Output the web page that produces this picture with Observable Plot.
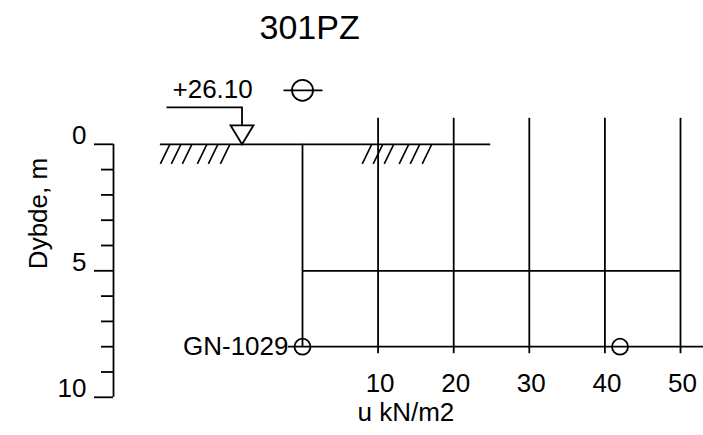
<!DOCTYPE html>
<html>
<head>
<meta charset="utf-8">
<script src="https://cdn.jsdelivr.net/npm/d3@7"></script>
<script src="https://cdn.jsdelivr.net/npm/@observablehq/plot@0.6"></script>
<style>
  html, body { margin: 0; padding: 0; background: #fff; }
  svg { display: block; }
</style>
</head>
<body>
<div id="chart"></div>
<script>
// Piezometer 301PZ: pore pressure u (kN/m2) against depth (m)
const title = "301PZ";
const depthLabel = "Dybde, m";
const pressureLabel = "u kN/m2";
const depthMajor = [0, 5, 10];
const depthMinor = [1, 2, 3, 4, 6, 7, 8, 9];
const pressureTicks = [10, 20, 30, 40, 50];
const pressureGrid = [10, 20, 30, 40, 50];
const layerDepths = [5];
const filterDepths = [8];
const readings = [
  {name: "GN-1029", depth: 8, u: 0},
  {name: "", depth: 8, u: 42}
];
const groundLevel = "+26.10";
const groundFrom = -18.8;
const groundTo = 24.9;
const waterTable = [{u: -8, depth: 0}];
const hatchAt = [-18.8, 7.9];

const font = "'Liberation Sans', Arial, Helvetica, sans-serif";
const sw = 1.8;
const fs = 26;

// Hatching under the terrain line (drawn relative to the anchor point)
const hatchSymbol = {
  draw(ctx) {
    for (const o of [0, 11, 22, 37, 48, 60]) {
      ctx.moveTo(o, 19.5);
      ctx.lineTo(o + 9.5, 0);
    }
  }
};
// Water table marker: inverted triangle with leader to the level text
const waterSymbol = {
  draw(ctx) {
    ctx.moveTo(0, 0);
    ctx.lineTo(-11.5, -19);
    ctx.lineTo(11.5, -19);
    ctx.closePath();
    ctx.moveTo(0, -19);
    ctx.lineTo(0, -37);
    ctx.lineTo(-75.5, -37);
  }
};
// Piezometer symbol: circle crossed by a horizontal bar
const piezoSymbol = {
  draw(ctx) {
    ctx.moveTo(10.5, 0);
    ctx.arc(0, 0, 10.5, 0, 2 * Math.PI);
    ctx.moveTo(-19, 0);
    ctx.lineTo(20, 0);
  }
};

const chart = Plot.plot({
  width: 703,
  height: 435,
  marginTop: 0, marginRight: 0, marginBottom: 0, marginLeft: 0,
  style: {fontFamily: font, color: "#000", background: "#fff"},
  x: {domain: [-25, 50], range: [113, 680], axis: null},
  y: {domain: [0, 10], range: [143.8, 396.8], axis: null},
  marks: [
    // depth axis
    Plot.ruleX([-25], {y1: 0, y2: 10, stroke: "#000", strokeWidth: sw}),
    Plot.ruleY(depthMajor, {y: d => d, x1: -25, x2: -25, insetLeft: -19, stroke: "#000", strokeWidth: sw}),
    Plot.ruleY(depthMinor, {y: d => d, x1: -25, x2: -25, insetLeft: -12, stroke: "#000", strokeWidth: sw}),
    Plot.text(depthMajor, {x: -25, y: d => d, text: d => String(d), textAnchor: "end", lineAnchor: "bottom", dx: -27, fontSize: fs}),
    Plot.text([depthLabel], {frameAnchor: "top-left", textAnchor: "middle", dx: 28, dy: 213, rotate: -90, fontSize: fs}),

    // pressure grid
    Plot.ruleX(pressureGrid, {x: d => d, y1: 0, y2: 8, insetTop: -26, insetBottom: -7, stroke: "#000", strokeWidth: sw}),
    Plot.ruleX([0], {x: d => d, y1: 0, y2: 8, stroke: "#000", strokeWidth: sw}),
    Plot.ruleY(layerDepths, {y: d => d, x1: 0, x2: 50, stroke: "#000", strokeWidth: sw}),
    Plot.ruleY(filterDepths, {y: d => d, x1: 0, x2: 50, insetLeft: -14, insetRight: -23, stroke: "#000", strokeWidth: sw}),
    Plot.text(pressureTicks, {x: d => d, text: d => String(d), frameAnchor: "bottom", lineAnchor: "bottom", dx: 2, dy: -43.5, fontSize: fs}),
    Plot.text([pressureLabel], {frameAnchor: "bottom-left", textAnchor: "start", lineAnchor: "bottom", dx: 357, dy: -15, fontSize: fs}),

    // terrain
    Plot.ruleY([0], {y: d => d, x1: groundFrom, x2: groundTo, stroke: "#000", strokeWidth: sw}),
    Plot.dot(hatchAt, {x: d => d, y: 0, symbol: hatchSymbol, fill: "none", stroke: "#000", strokeWidth: 1.6}),
    Plot.dot(waterTable, {x: "u", y: "depth", symbol: waterSymbol, fill: "none", stroke: "#000", strokeWidth: sw}),
    Plot.text(waterTable, {x: "u", y: "depth", text: () => groundLevel, textAnchor: "start", lineAnchor: "bottom", dx: -69.5, dy: -46, fontSize: fs}),
    Plot.dot([0], {x: d => d, y: 0, dy: -54, symbol: piezoSymbol, fill: "none", stroke: "#000", strokeWidth: sw}),

    // readings
    Plot.dot(readings, {x: "u", y: "depth", r: 8, fill: "none", stroke: "#000", strokeWidth: sw}),
    Plot.text(readings, {x: "u", y: "depth", text: "name", textAnchor: "end", dx: -14, fontSize: fs}),

    // title
    Plot.text([title], {frameAnchor: "top-left", textAnchor: "start", lineAnchor: "bottom", dx: 259, dy: 38, fontSize: 34})
  ]
});
document.getElementById("chart").append(chart);
</script>
</body>
</html>
